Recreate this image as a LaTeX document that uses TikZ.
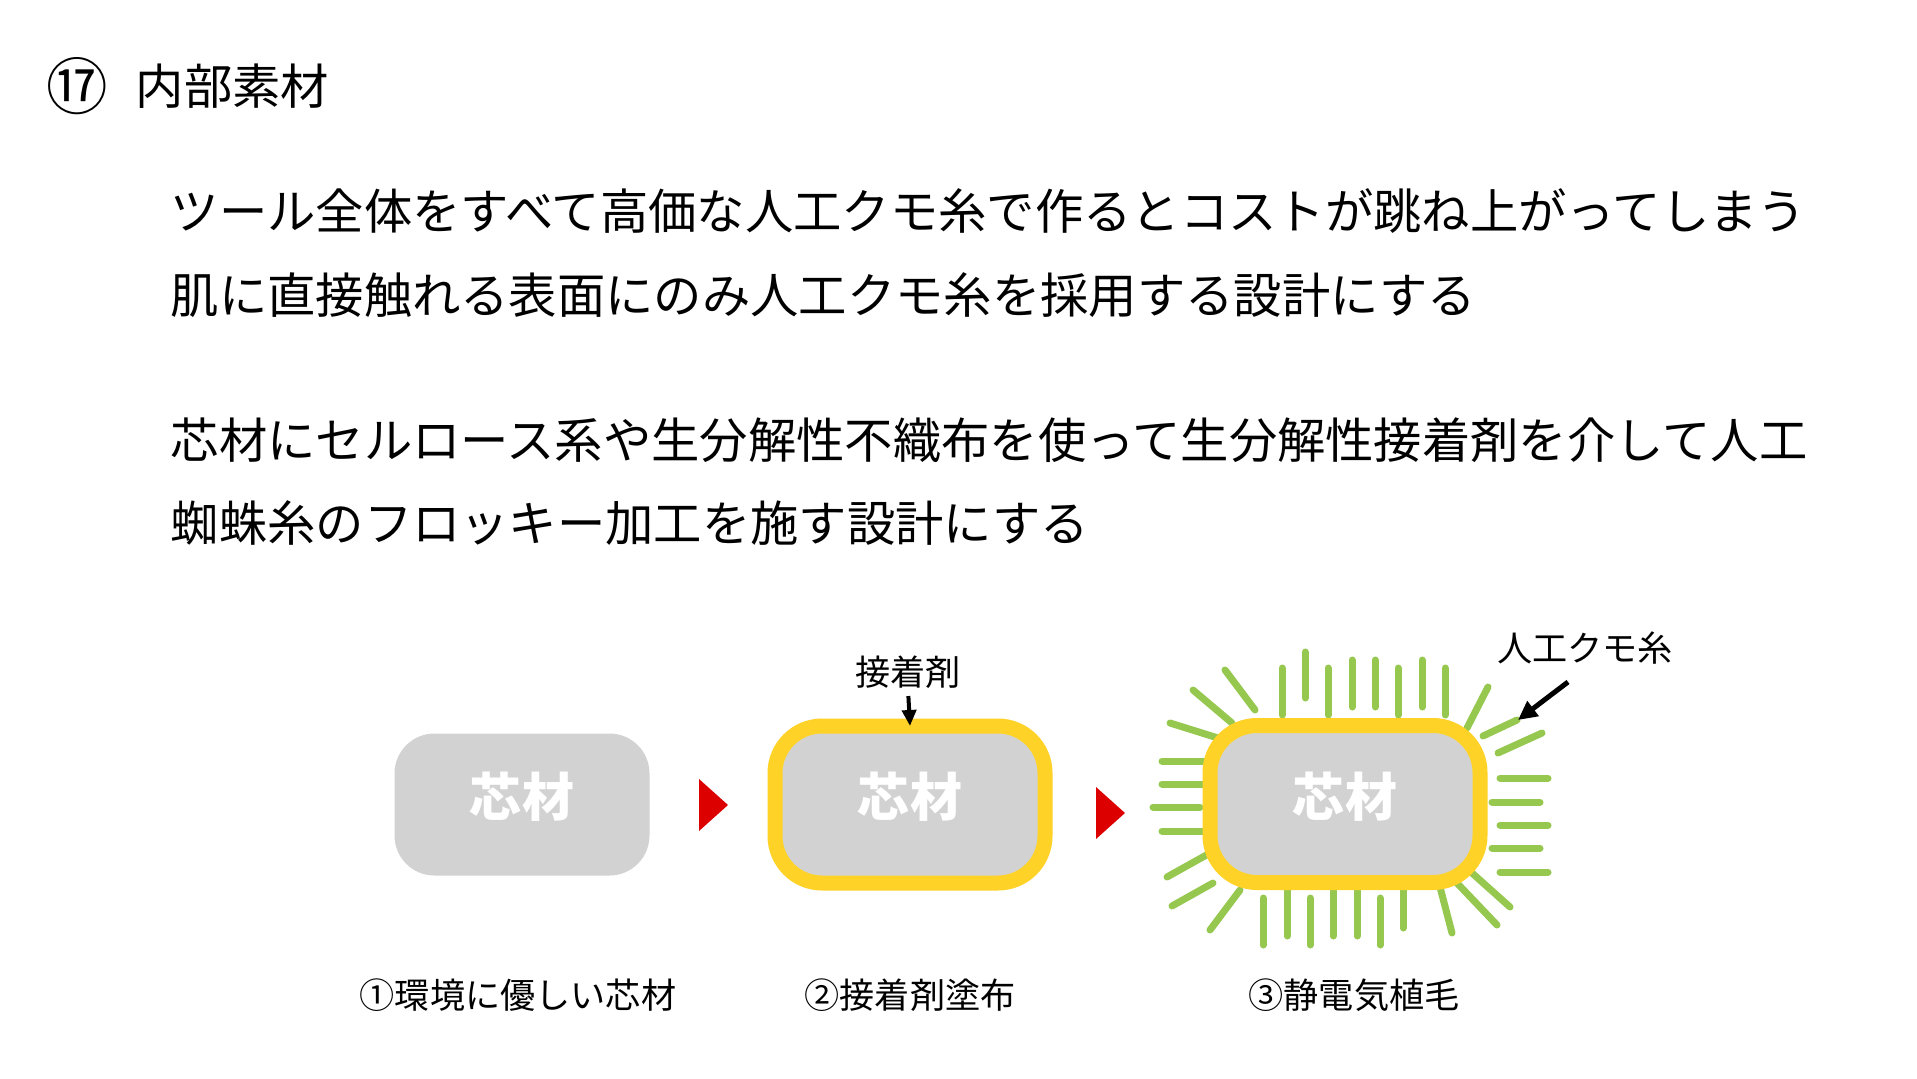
\documentclass[tikz,border=0pt]{standalone}
\usepackage{fontspec}
\setmainfont{Noto Sans CJK JP}
\usepackage{tikz}
\usetikzlibrary{arrows.meta}

\definecolor{coregrey}{RGB}{210,210,210}
\definecolor{glueyellow}{RGB}{255,210,40}
\definecolor{hairgreen}{RGB}{150,200,80}
\definecolor{arrowred}{RGB}{220,0,0}

\begin{document}
\begin{tikzpicture}[
                x=0.1mm, y=-0.1mm,
                bodytext/.style={anchor=west, inner sep=0pt, font=\fontsize{13.75pt}{16pt}\selectfont},
                captiontext/.style={inner sep=0pt, font=\fontsize{10pt}{12pt}\selectfont},
                corebox/.style={rectangle, rounded corners=4mm, fill=coregrey, minimum width=25.5mm, minimum height=14.2mm, inner sep=0pt, outer sep=0pt},
                coatedbox/.style={corebox, draw=glueyellow, line width=1.5mm, minimum width=27mm, minimum height=15.7mm, rounded corners=4.7mm},
                coretext/.style={text=white, inner sep=0pt, font=\bfseries\fontsize{14.8pt}{17pt}\selectfont},
                hair/.style={draw=hairgreen, line width=0.7mm, line cap=round},
                pointer/.style={-{Triangle[length=1.6mm, width=1.4mm]}, line width=0.4mm},
            ]
            % Background
            \fill[white] (0,0) rectangle (1917,1078);

            % Title and text
            \node[inner sep=0pt, font=\fontsize{17.5pt}{20pt}\selectfont] (title_no) at (77,86) {⑰};
            \node[bodytext] (title)   at (135,86)  {内部素材};
            \node[bodytext] (line_1)  at (170,211) {ツール全体をすべて高価な人工クモ糸で作るとコストが跳ね上がってしまう};
            \node[bodytext] (line_2)  at (170,295) {肌に直接触れる表面にのみ人工クモ糸を採用する設計にする};
            \node[bodytext] (line_3)  at (170,440) {芯材にセルロース系や生分解性不織布を使って生分解性接着剤を介して人工};
            \node[bodytext] (line_4)  at (170,523) {蜘蛛糸のフロッキー加工を施す設計にする};

            % Hairs
            \foreach \xa/\ya/\xb/\yb in {1282/668/1282/715, 1305/652/1305/698, 1328/668/1328/715, 1352/660/1352/707,
                    1375/660/1375/707, 1398/668/1398/715, 1422/660/1422/707, 1445/668/1445/715,
                    1225/670/1255/710, 1193/690/1232/723, 1170/723/1218/738,
                    1162/761/1207/761, 1162/784/1207/784, 1153/807/1200/807, 1162/831/1207/831,
                    1167/877/1210/853, 1172/906/1213/883, 1210/930/1240/890,
                    1263/898/1263/945, 1287/889/1287/936, 1310/898/1310/945, 1333/889/1333/936,
                    1357/889/1357/936, 1380/898/1380/945, 1403/882/1403/928, 1440/887/1452/933,
                    1457/883/1497/925, 1472/873/1510/907,
                    1500/778/1548/778, 1492/802/1540/802, 1500/825/1548/825, 1492/848/1540/848, 1500/872/1548/872,
                    1467/728/1488/687, 1483/736/1517/720, 1498/753/1542/733}
                \draw[hair] (\xa,\ya) -- (\xb,\yb);

            % Boxes
            \node[corebox]   (core_1) at (522,804.5) {};
            \node[coatedbox] (core_2) at (910,804.5) {};
            \node[coatedbox] (core_3) at (1345,804)  {};
            \node[coretext] (core_text_1) at (522,797)  {芯材};
            \node[coretext] (core_text_2) at (910,797)  {芯材};
            \node[coretext] (core_text_3) at (1345,797) {芯材};

            % Step arrows
            \fill[arrowred] (699,779) -- (728,805) -- (699,831) -- cycle;
            \fill[arrowred] (1096,787) -- (1125,813) -- (1096,839) -- cycle;

            % Labels
            \node[captiontext] (glue_label) at (908,672)  {接着剤};
            \node[captiontext] (silk_label) at (1585,648) {人工クモ糸};
            \coordinate (silk_tip) at (1518,720);

            \node[captiontext] (step_1) at (518,995)  {①環境に優しい芯材};
            \node[captiontext] (step_2) at (910,995)  {②接着剤塗布};
            \node[captiontext] (step_3) at (1354,995) {③静電気植毛};

            %Lines
            \draw[pointer, line width=0.4mm, shorten <=0.7mm] (glue_label.south) -- (core_2.north);
            \draw[pointer, -{Triangle[length=1.9mm, width=1.8mm]}, line width=0.5mm] ([shift={(-17,17)}]silk_label.south) -- (silk_tip);
        \end{tikzpicture}
\end{document}
